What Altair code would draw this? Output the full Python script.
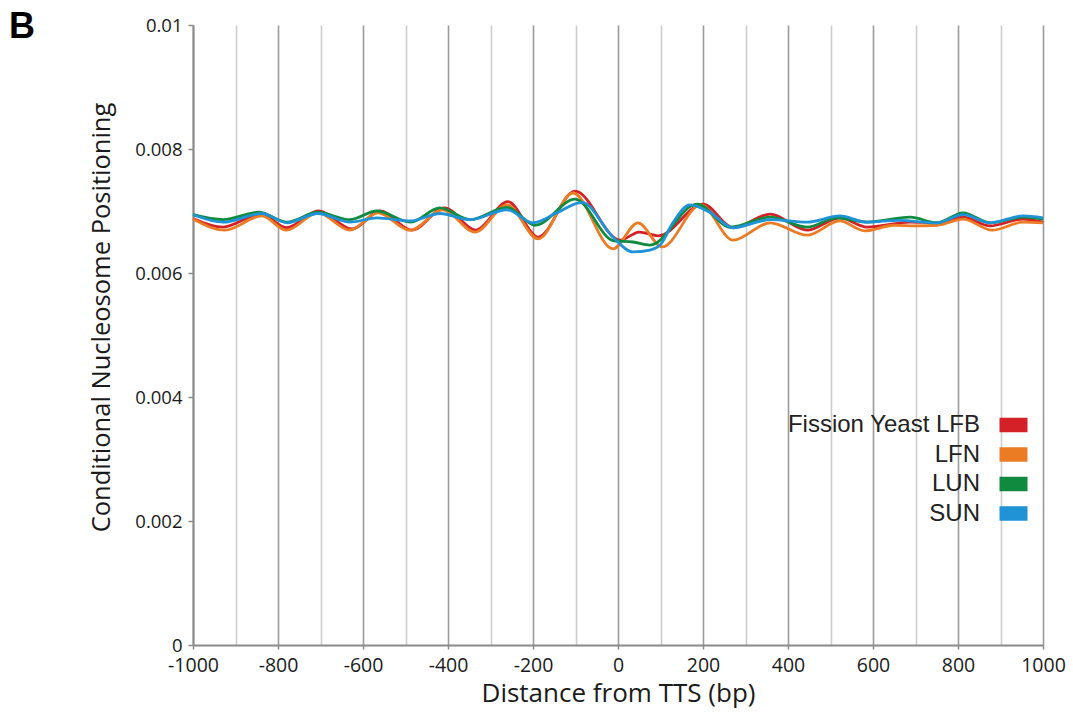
import altair as alt
import pandas as pd

# ---- data (distance bp, conditional positioning) ----
lfb_x = [-1000, -930, -840, -780, -705, -625, -560, -485, -408, -335, -259, -188, -101, 5, 50, 95, 200, 271, 358, 445, 522, 586, 687, 751, 812, 875, 953, 1000]
lfb_y = [0.00688, 0.00674, 0.00695, 0.00673, 0.00700, 0.00671, 0.00700, 0.00669, 0.00705, 0.00669, 0.00715, 0.00658, 0.00732, 0.00653, 0.00666, 0.00660, 0.00711, 0.00673, 0.00695, 0.00669, 0.00689, 0.00674, 0.00682, 0.00681, 0.00690, 0.00676, 0.00687, 0.00682]

lfn_x = [-1000, -925, -838, -780, -706, -631, -565, -489, -412, -336, -261, -188, -106, -12, 47, 104, 195, 271, 358, 445, 522, 580, 650, 700, 751, 812, 880, 953, 1000]
lfn_y = [0.00687, 0.00669, 0.00692, 0.00669, 0.00697, 0.00669, 0.00697, 0.00669, 0.00702, 0.00666, 0.00710, 0.00655, 0.00729, 0.00639, 0.00681, 0.00642, 0.00710, 0.00653, 0.00681, 0.00661, 0.00684, 0.00668, 0.00677, 0.00676, 0.00677, 0.00687, 0.00669, 0.00682, 0.00681]

lun_x = [-1000, -929, -845, -779, -706, -631, -567, -489, -419, -348, -261, -195, -101, -10, 35, 75, 186, 265, 358, 445, 515, 586, 687, 751, 812, 875, 953, 1000]
lun_y = [0.00694, 0.00686, 0.00698, 0.00682, 0.00698, 0.00686, 0.00700, 0.00682, 0.00705, 0.00686, 0.00706, 0.00677, 0.00719, 0.00652, 0.00650, 0.00645, 0.00711, 0.00674, 0.00690, 0.00674, 0.00689, 0.00682, 0.00690, 0.00681, 0.00697, 0.00681, 0.00690, 0.00687]

sun_x = [-1000, -929, -838, -779, -706, -631, -567, -489, -419, -348, -261, -200, -144, -85, -12, 35, 75, 99, 129, 169, 216, 271, 327, 358, 445, 522, 586, 660, 751, 812, 875, 953, 1000]
sun_y = [0.00694, 0.00682, 0.00696, 0.00681, 0.00696, 0.00682, 0.00689, 0.00684, 0.00696, 0.00686, 0.00702, 0.00681, 0.00697, 0.00714, 0.00658, 0.00634, 0.00637, 0.00645, 0.00681, 0.00710, 0.00698, 0.00673, 0.00682, 0.00686, 0.00682, 0.00692, 0.00682, 0.00685, 0.00681, 0.00694, 0.00681, 0.00692, 0.00689]

series_names = ["Fission Yeast LFB", "LFN", "LUN", "SUN"]
series_colors = ["#d42127", "#ec7c24", "#0f8a3e", "#1f93d6"]

x_ticks = list(range(-1000, 1001, 100))
y_ticks = [0, 0.002, 0.004, 0.006, 0.008, 0.01]

rows = []
for order, (name, xs, ys) in enumerate(zip(series_names,
                                           [lfb_x, lfn_x, lun_x, sun_x],
                                           [lfb_y, lfn_y, lun_y, sun_y])):
    for xv, yv in zip(xs, ys):
        rows.append({"series": name, "order": order, "bp": xv, "value": yv})
df = pd.DataFrame(rows)

FONT = "Open Sans"
MAJOR = "datum.value % 200 == 0"

x_axis = alt.Axis(
    values=x_ticks,
    labelExpr=MAJOR + " ? toString(datum.value) : ''",
    labelFlush=False,
    labelOverlap=False,
    grid=True,
    gridColor={"condition": {"test": MAJOR, "value": "#9b9b9b"}, "value": "#cdcdcd"},
    gridWidth=1.6,
    gridOpacity=1,
    domainColor="#8a8a8a",
    domainWidth=2,
    ticks=True,
    tickSize=4,
    tickColor="#8a8a8a",
    tickWidth=1.5,
    tickOpacity={"condition": {"test": MAJOR, "value": 1}, "value": 0},
    labelFont=FONT,
    labelFontSize=19.5,
    labelColor="#1a1a1a",
    labelPadding=7,
    title="Distance from TTS (bp)",
    titleFont=FONT,
    titleFontSize=26,
    titleFontWeight="normal",
    titleColor="#1a1a1a",
    titlePadding=6,
)

y_axis = alt.Axis(
    values=y_ticks,
    format="~g",
    grid=False,
    domainColor="#8a8a8a",
    domainWidth=2,
    tickColor="#8a8a8a",
    tickSize=5,
    tickWidth=1.5,
    labelFont=FONT,
    labelFontSize=18.5,
    labelColor="#1a1a1a",
    labelPadding=6,
    title="Conditional Nucleosome Positioning",
    titleFont=FONT,
    titleFontSize=25.5,
    titleFontWeight="normal",
    titleColor="#1a1a1a",
    titlePadding=20,
    titleY=292,
)

# legend swatch: five stacked strokes that merge into a solid 28x14 block
SWATCH = "M-1,-0.4H1M-1,-0.2H1M-1,0H1M-1,0.2H1M-1,0.4H1"

lines = alt.Chart(df).mark_line(interpolate="monotone", strokeWidth=2.8).encode(
    x=alt.X("bp:Q", scale=alt.Scale(domain=[-1000, 1000], nice=False), axis=x_axis),
    y=alt.Y("value:Q", scale=alt.Scale(domain=[0, 0.01], nice=False), axis=y_axis),
    color=alt.Color(
        "series:N",
        scale=alt.Scale(domain=series_names, range=series_colors),
        legend=alt.Legend(
            title=None,
            orient="none",
            legendX=804.5,
            legendY=384,
            padding=0,
            symbolType=SWATCH,
            symbolSize=784,
            symbolStrokeWidth=3.2,
            symbolOpacity=1,
            labelAlign="right",
            labelOffset={"expr": "-49.5"},
            labelFont="Liberation Sans",
            labelFontSize=24,
            labelColor="#222222",
            labelLimit=400,
            rowPadding=1.5,
        ),
    ),
    order=alt.Order("order:Q"),
    detail="series:N",
)

panel_label = alt.Chart(pd.DataFrame({"t": ["B"]})).mark_text(
    font="Liberation Sans", fontSize=36, fontWeight="bold", align="left", baseline="alphabetic", color="#000000"
).encode(text="t:N", x=alt.value(-184), y=alt.value(13))

chart = alt.layer(lines, panel_label).properties(
    width=850,
    height=620,
    padding={"left": 193, "top": 25, "right": 30, "bottom": 68},
    autosize=alt.AutoSizeParams(type="none"),
).configure_view(stroke=None)

chart.save("out.html", embed_options={"renderer": "svg", "actions": False})
